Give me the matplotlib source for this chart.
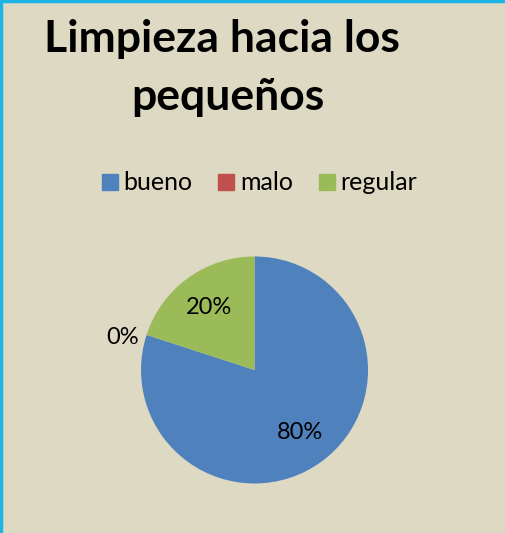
import matplotlib.pyplot as plt
from matplotlib.lines import Line2D
import numpy as np

# Data
labels = ["bueno", "malo", "regular"]
values = [80, 0, 20]
colors = ["#4F81BD", "#C0504D", "#9BBB59"]
bg = "#DDD9C3"

fig = plt.figure(figsize=(5.06, 5.33), dpi=100)
fig.patch.set_facecolor(bg)

# Title (two lines)
fig.text(221.5 / 506, 1 - 52 / 533, "Limpieza hacia los", ha="center", va="baseline",
         fontsize=32, fontweight="bold", family="Lato")
fig.text(228 / 506, 1 - 110 / 533, "pequeños", ha="center", va="baseline",
         fontsize=32, fontweight="bold", family="Lato")

# Pie axes
ax = fig.add_axes([0.2787, 0.0929, 0.4486, 0.4259])
ax.set_facecolor(bg)
wedges, texts, autotexts = ax.pie(values, colors=colors, startangle=90, counterclock=False,
                                  autopct="%d%%", pctdistance=0.68, radius=1,
                                  textprops=dict(fontsize=17, family="Lato", color="black"))
# move the 0% label outside the pie
for w, t, v in zip(wedges, autotexts, values):
    if v == 0:
        ang = np.deg2rad((w.theta1 + w.theta2) / 2 + 4)
        t.set_position((1.2 * np.cos(ang), 1.2 * np.sin(ang)))
ax.set_xlim(-1, 1)
ax.set_ylim(-1, 1)
ax.set_aspect("equal")
ax.axis("off")

# Legend
handles = [Line2D([], [], marker="s", linestyle="", markersize=12, color=c) for c in colors]
fig.legend(handles, labels, loc="center", bbox_to_anchor=(0.51, 1 - 183 / 533), ncol=3,
           frameon=False, prop=dict(family="Lato", size=18), handletextpad=0.1,
           columnspacing=0.9, handlelength=0.9)

# Border on left and top
fig.add_artist(Line2D([0.002, 0.002], [0, 1], transform=fig.transFigure, color="#1EB4E6", lw=2.5))
fig.add_artist(Line2D([0, 1], [0.998, 0.998], transform=fig.transFigure, color="#1EB4E6", lw=2.5))

plt.savefig("out.png", dpi=100, facecolor=bg)
